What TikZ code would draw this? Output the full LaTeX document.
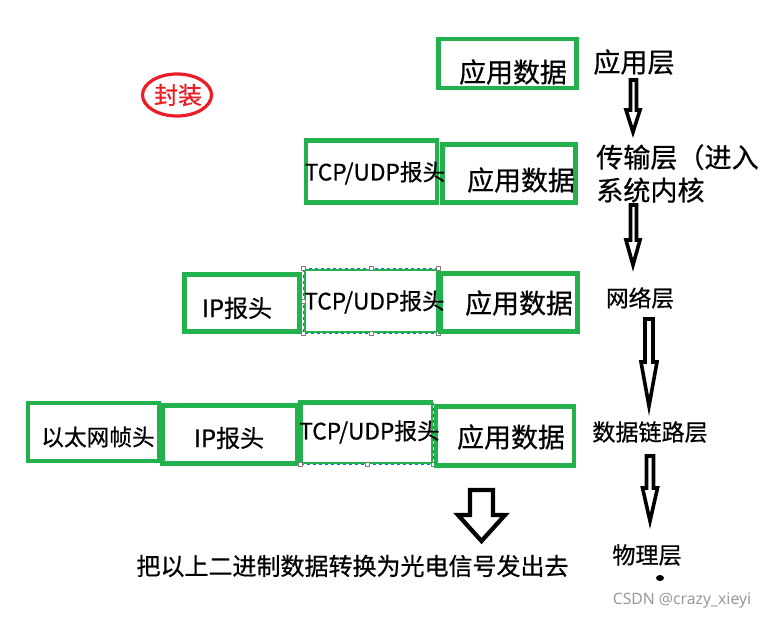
\documentclass[tikz,border=0pt]{standalone}
\usepackage{fontspec}
\usetikzlibrary{shapes.geometric}
\setmainfont{Noto Sans CJK SC}[FakeBold=0.6]
\newfontfamily\wmfont{Noto Sans}
\definecolor{pgreen}{RGB}{34,177,76}
\definecolor{pred}{RGB}{237,28,36}
\definecolor{selblue}{RGB}{0,120,215}
\newcommand{\fsz}[2]{\fontsize{#1pt}{#2pt}\selectfont}
\tikzset{
  gbox/.style={draw=pgreen, line width=3.6pt, inner sep=0pt},
  selbox/.style={draw=pgreen, line width=2pt, inner sep=0pt},
  sz/.style 2 args={minimum width={#1*0.75pt}, minimum height={#2*0.75pt}},
  lbl/.style={inner sep=0pt},
  blockarrow/.style={draw=black, fill=white, line width=2.7pt, line join=miter},
  selline/.style={draw=selblue, line width=0.7pt, dash pattern=on 2.5pt off 2pt},
  handle/.style={draw=gray, fill=white, line width=0.5pt, minimum size=3pt, inner sep=0pt},
}
\begin{document}
\begin{tikzpicture}[x=0.75pt,y=-0.75pt]
\useasboundingbox[fill=white] (0,0) rectangle (767,620);

% 封装
\node[draw=pred, line width=2.4pt, ellipse, minimum width={69*0.75pt}, minimum height={42*0.75pt}, inner sep=0pt] (fz) at (177,95) {};
\node[lbl, text=pred, font=\fsz{18}{22}] (fzt) at (178,95) {封装};

% Row 1
\node[gbox, sz={138}{49}] (r1a) at (507.5,63.5) {};
\node[lbl, font=\fsz{20.2}{24}] (r1at) at (513,72) {应用数据};
\node[lbl, font=\fsz{20.3}{24}] (L1) at (634,62) {应用层};

% Row 2
\node[gbox, sz={131}{62}] (r2t) at (371.5,171.5) {};
\node[gbox, sz={133}{58}] (r2a) at (509,173.5) {};
\node[lbl, font=\fsz{17}{20}] (r2tt) at (375,173) {TCP/UDP报头};
\node[lbl, font=\fsz{20.2}{24}] (r2at) at (521,180) {应用数据};
\node[lbl, font=\fsz{20.3}{24.75}, align=left, anchor=west] (L2) at (596,173.5) {传输层（进入\\系统内核};

% Row 3
\node[gbox, sz={115}{57}] (r3i) at (242,303) {};
\node[selbox, sz={132}{62}] (r3t) at (371,301) {};
\draw[selline] (r3t.north west) rectangle (r3t.south east);
\foreach \a in {north west,north,north east,east,south east,south,south west,west}
  \node[handle] at (r3t.\a) {};
\node[gbox, sz={137}{58}] (r3a) at (509,302.5) {};
\node[lbl, font=\fsz{18}{22}] (r3it) at (237,308) {IP报头};
\node[lbl, font=\fsz{17}{20}] (r3tt) at (374.5,302) {TCP/UDP报头};
\node[lbl, font=\fsz{20.2}{24}] (r3at) at (519,303) {应用数据};
\node[lbl, font=\fsz{17}{20}] (L3) at (640,298) {网络层};

% Row 4
\node[gbox, sz={131}{58}] (r4e) at (93.5,432) {};
\node[gbox, sz={135}{58}] (r4i) at (230,434.5) {};
\node[selbox, sz={130}{59}] (r4t) at (367,433.5) {};
\draw[pgreen, line width=3.6pt] (r4t.south west) -- (r4t.north west) -- (r4t.north east);
\draw[selline] (r4t.south west) -- (r4t.south east) -- (r4t.north east);
\foreach \a in {south west,south,south east}
  \node[handle] at (r4t.\a) {};
\node[gbox, sz={138}{59}] (r4a) at (505,436) {};
\node[lbl, font=\fsz{17}{20}] (r4et) at (98,437) {以太网帧头};
\node[lbl, font=\fsz{18}{22}] (r4it) at (229,438) {IP报头};
\node[lbl, font=\fsz{17}{20}] (r4tt) at (369.5,432) {TCP/UDP报头};
\node[lbl, font=\fsz{20.2}{24}] (r4at) at (511,437) {应用数据};
\node[lbl, font=\fsz{17.3}{20}] (L4) at (650,432) {数据链路层};

% Physical layer
\node[lbl, font=\fsz{17.3}{20}] (L5) at (647,555) {物理层};
\node[fill=black, ellipse, minimum width=6pt, minimum height=4.5pt, inner sep=0pt] (dot) at (660,578) {};

% Layer arrows (hollow block arrows)
\draw[blockarrow] (630.5,80) -- (636.5,80) -- (636.5,110) -- (640,110) -- (633,132) -- (626,110) -- (630.5,110) -- cycle;
\draw[blockarrow] (630.5,205) -- (636.5,205) -- (636.5,240) -- (640,240) -- (633,265) -- (626,240) -- (630.5,240) -- cycle;
\draw[blockarrow] (645,319) -- (653,319) -- (653,362) -- (657,362) -- (649,406) -- (641,362) -- (645,362) -- cycle;
\draw[blockarrow] (646.5,456) -- (653.5,456) -- (653.5,488) -- (657.5,488) -- (650,521) -- (642.5,488) -- (646.5,488) -- cycle;

% Big arrow
\draw[blockarrow, line width=3.2pt] (470,490) -- (493,490) -- (493,515) -- (505,515) -- (481.5,541) -- (458,515) -- (470,515) -- cycle;
\node[lbl, font=\fsz{18}{22}] (bt) at (352.5,566) {把以上二进制数据转换为光电信号发出去};

% watermark
\node[lbl, text=gray!80, font=\wmfont\fontsize{11.8}{14}\selectfont] (wm) at (682,601) {CSDN @crazy\_xieyi};
\end{tikzpicture}
\end{document}
